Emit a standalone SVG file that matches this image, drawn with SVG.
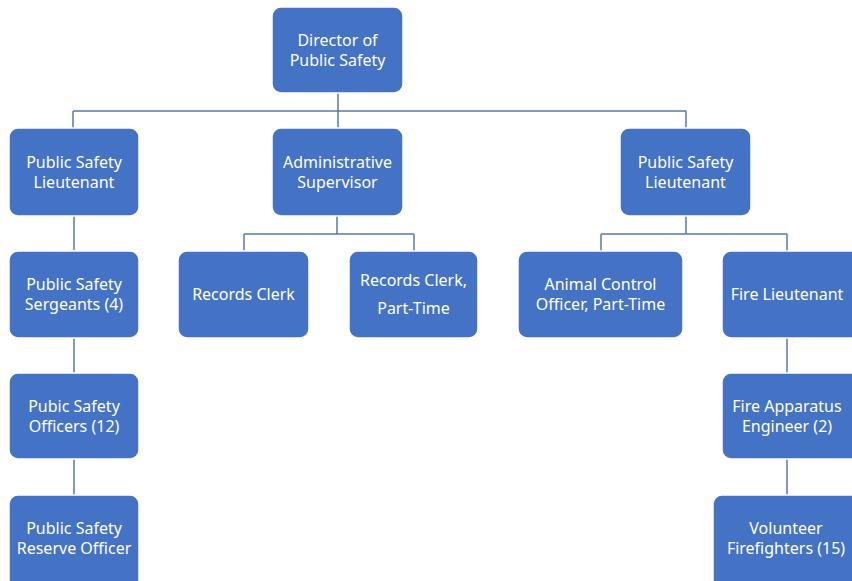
<svg xmlns="http://www.w3.org/2000/svg" width="852" height="581" viewBox="0 0 852 581">
<style>
.box{fill:#4472C4;stroke:#ffffff;stroke-width:1.5}
.t{font-family:"Noto Sans","Open Sans",sans-serif;font-size:16px;fill:#ffffff;text-anchor:middle}
.c{fill:none;stroke:#5A78AE;stroke-width:1.5}
</style>
<rect width="852" height="581" fill="#ffffff"/>
<g id="connectors">
<path class="c" d="M338 93V111M73 111H686M73 111V128M338 111V128M686 111V128"/>
<path class="c" d="M74 216V250M74 338V373M74 459V495"/>
<path class="c" d="M337 216V234M244 234H414M244 234V251M414 234V251"/>
<path class="c" d="M686 216V234M601 234H787M601 234V251M787 234V251"/>
<path class="c" d="M787 338V373M787 459V495"/>
</g>
<g id="director"><rect class="box" x="272" y="7" width="131" height="86" rx="9"/><text class="t" x="337.5" y="46">Director of</text><text class="t" x="337.5" y="66">Public Safety</text></g>
<g id="lt-left"><rect class="box" x="9" y="128" width="130" height="88" rx="9"/><text class="t" x="74" y="168">Public Safety</text><text class="t" x="74" y="188">Lieutenant</text></g>
<g id="admin"><rect class="box" x="272" y="128" width="131" height="88" rx="9"/><text class="t" x="337.5" y="168">Administrative</text><text class="t" x="337.5" y="188">Supervisor</text></g>
<g id="lt-right"><rect class="box" x="620" y="128" width="131" height="88" rx="9"/><text class="t" x="685.5" y="168">Public Safety</text><text class="t" x="685.5" y="188">Lieutenant</text></g>
<g id="sergeants"><rect class="box" x="9" y="251" width="130" height="87" rx="9"/><text class="t" x="74" y="290">Public Safety</text><text class="t" x="74" y="310">Sergeants (4)</text></g>
<g id="records"><rect class="box" x="178" y="251" width="131" height="87" rx="9"/><text class="t" x="243.5" y="300">Records Clerk</text></g>
<g id="records-pt"><rect class="box" x="349" y="251" width="129" height="87" rx="9"/><text class="t" x="413.5" y="286">Records Clerk,</text><text class="t" x="413.5" y="314">Part-Time</text></g>
<g id="animal"><rect class="box" x="518" y="251" width="165" height="87" rx="9"/><text class="t" x="600.5" y="290">Animal Control</text><text class="t" x="600.5" y="310">Officer, Part-Time</text></g>
<g id="fire-lt"><rect class="box" x="722" y="251" width="140" height="87" rx="9"/><text class="t" x="787" y="300">Fire Lieutenant</text></g>
<g id="officers"><rect class="box" x="9" y="373" width="130" height="86" rx="9"/><text class="t" x="74" y="412">Pubic Safety</text><text class="t" x="74" y="432">Officers (12)</text></g>
<g id="engineer"><rect class="box" x="722" y="373" width="140" height="86" rx="9"/><text class="t" x="787" y="412">Fire Apparatus</text><text class="t" x="787" y="432">Engineer (2)</text></g>
<g id="reserve"><rect class="box" x="9" y="495" width="130" height="95" rx="9"/><text class="t" x="74" y="534">Public Safety</text><text class="t" x="74" y="554">Reserve Officer</text></g>
<g id="volunteer"><rect class="box" x="713" y="495" width="150" height="95" rx="9"/><text class="t" x="786" y="534">Volunteer</text><text class="t" x="786" y="554">Firefighters (15)</text></g>
</svg>
